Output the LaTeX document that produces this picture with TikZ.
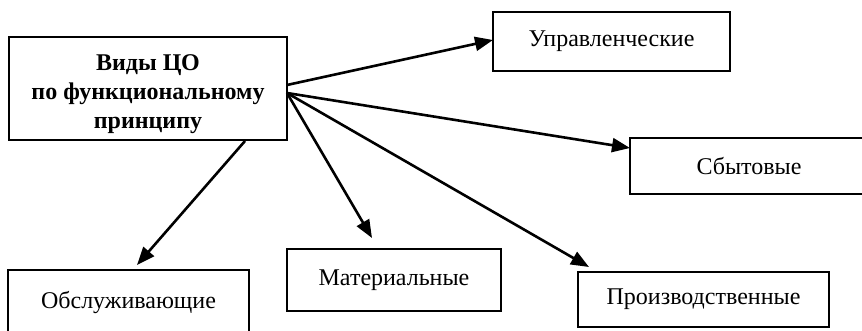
\documentclass[tikz,border=0pt]{standalone}
\usepackage{fontspec}
\setmainfont{Liberation Serif}
\usetikzlibrary{arrows.meta}
\begin{document}
\begin{tikzpicture}[x=0.5pt,y=-0.5pt,
  box/.style={draw=black, line width=1pt, rectangle, inner sep=0pt, align=center,
    font=\fontsize{12pt}{14.5pt}\selectfont},
  arr/.style={line width=1.3pt, -{Triangle[length=9pt,width=7pt]}}]
\useasboundingbox (0,0) rectangle (862,331);
\node[box, minimum width=139pt, minimum height=51.5pt, text height=43pt, text depth=3pt,
  font=\fontsize{12pt}{14.5pt}\selectfont\bfseries]
  (main) at (148,88.5) {Виды ЦО\\по функциональному\\принципу};
\node[box, minimum width=118.5pt, minimum height=29.5pt] (upr) at (611.5,41.5) {Управленческие};
\node[box, minimum width=119pt, minimum height=28pt] (sbyt) at (749,166) {Сбытовые};
\node[box, minimum width=120.5pt, minimum height=32pt] (obs) at (128.5,302) {Обслуживающие};
\node[box, minimum width=107pt, minimum height=31pt] (mat) at (394,280) {Материальные};
\node[box, minimum width=125.5pt, minimum height=27.5pt] (proiz) at (703.5,299.5) {Производственные};
\coordinate (o1) at (287,85);
\coordinate (o2) at (287,93);
\coordinate (o3) at (245,141);
\coordinate (tupr) at (493,40);
\coordinate (tsbyt) at (630,148);
\coordinate (tproiz) at (589,267);
\coordinate (tmat) at (372,238);
\coordinate (tobs) at (137,265);
\draw[arr] (o1) -- (tupr);
\draw[arr] (o2) -- (tsbyt);
\draw[arr] (o2) -- (tproiz);
\draw[arr] (o2) -- (tmat);
\draw[arr] (o3) -- (tobs);
\end{tikzpicture}
\end{document}
